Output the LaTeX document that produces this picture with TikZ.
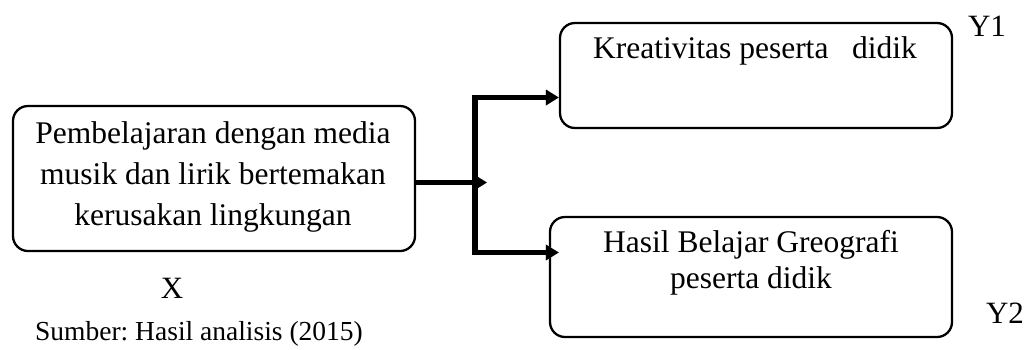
\documentclass[tikz,border=0pt]{standalone}
\usepackage{fontspec}
\setmainfont{Liberation Serif}
\usetikzlibrary{arrows.meta}
\frenchspacing
\begin{document}
\begin{tikzpicture}[x=1pt,y=-1pt,
  box/.style={draw, line width=2.3pt, rounded corners=15pt, inner sep=0pt},
  txt/.style={inner sep=0pt, anchor=base, font=\fontsize{31.5pt}{36pt}\selectfont},
  lbl/.style={inner sep=0pt, anchor=base, font=\fontsize{31pt}{36pt}\selectfont},
  src/.style={inner sep=0pt, anchor=base, font=\fontsize{27.5pt}{32pt}\selectfont},
  conn/.style={line width=5.5pt},
  shadowline/.style={line width=5.5pt, draw=black!45},
  tip/.style={-{Triangle[length=13pt,width=15pt]}}
]
\useasboundingbox (0,0) rectangle (1031,349);
% boxes
\node[box, minimum width=402pt, minimum height=145pt] (left) at (214,178.5) {};
\node[box, minimum width=392pt, minimum height=105pt] (top) at (756,75.5) {};
\node[box, minimum width=402pt, minimum height=120pt] (bot) at (751,277) {};
% texts
\node[txt] (l1) at (213,143) {Pembelajaran dengan media};
\node[txt] (l2) at (213,184) {musik dan lirik bertemakan};
\node[txt] (l3) at (213,225) {kerusakan lingkungan};
\node[txt] (t1) at (755,58) {Kreativitas peserta\ \ \ didik};
\node[txt] (b1) at (751,252) {Hasil Belajar Greografi};
\node[txt] (b2) at (751,288) {peserta didik};
\node[lbl] (x) at (172,298) {X};
\node[lbl] (y1) at (987,36) {Y1};
\node[lbl] (y2) at (1005,323) {Y2};
\node[src] (s) at (199,340) {Sumber: Hasil analisis (2015)};
% junction coordinates
\coordinate (jt) at (475,97.5);
\coordinate (jb) at (475,252.5);
\coordinate (jm) at (487,182.5);
\coordinate (bend) at ([xshift=10pt]bot.west |- jb);
% shadows
\begin{scope}[xshift=2.5pt, yshift=-3pt]
  \draw[shadowline] (jt) -- (jb);
  \draw[shadowline, tip] (left.east |- jm) -- (jm);
  \draw[shadowline, tip] (jt) -- (top.west |- jt);
  \draw[shadowline, tip] (jb) -- (bend);
\end{scope}
% connectors
\draw[conn] ([yshift=2.75pt]jt) -- ([yshift=-2.75pt]jb);
\draw[conn, tip] (left.east |- jm) -- (jm);
\draw[conn, tip] ([xshift=-2.75pt]jt) -- (top.west |- jt);
\draw[conn, tip] ([xshift=-2.75pt]jb) -- (bend);
\end{tikzpicture}
\end{document}
